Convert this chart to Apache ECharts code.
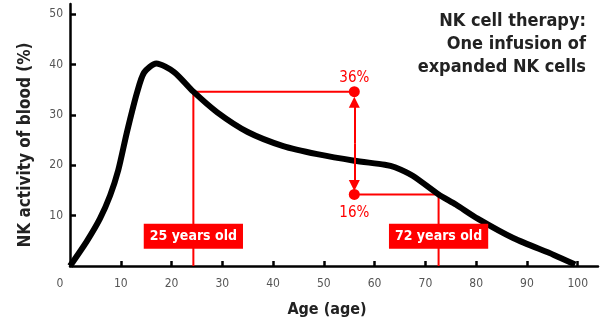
<!DOCTYPE html>
<html><head><meta charset="utf-8">
<script src="https://cdn.jsdelivr.net/npm/echarts@6/dist/echarts.min.js"></script>
<style>html,body{margin:0;padding:0;background:#fff}#c{width:604px;height:323px}</style>
</head><body><div id="c"></div>
<script>
// Curve: NK activity (%) by age
const curveAge = [0, 3.3, 5.9, 7.9, 9.5, 11.2, 13.2, 14.6, 17, 20.5, 24.3, 29, 35, 42, 48.7, 56, 62, 64, 67.5, 72.6, 76, 80.3, 87.4, 95.3, 99.5];
const curveNK  = [0, 4.9, 9.4, 14, 19, 26.5, 34.4, 38.4, 40.2, 38.5, 34.6, 30.5, 26.6, 23.8, 22.2, 20.9, 20.1, 19.6, 17.9, 14.2, 12.2, 9.4, 5.5, 2.2, 0.3];
// Annotated ages and levels
const markAges = [24.3, 72.6];
const markAgeLabels = ['25 years old', '72 years old'];
const therapyAge = 56;
const levelValues = [34.6, 14.2];
const levelLabels = ['36%', '16%'];
const arrowEnds = [32.5, 16.0];
const labelBoxY = 5.9;
const xTicks = [0, 10, 20, 30, 40, 50, 60, 70, 80, 90, 100];
const yTicks = [10, 20, 30, 40, 50];
const titleLines = ['NK cell therapy:', 'One infusion of', 'expanded NK cells'];

const RED = '#ff0000';
const FONT = '"DejaVu Sans Condensed", "DejaVu Sans", sans-serif';

const curve = curveAge.map((a, i) => [a, curveNK[i]]);
const guide1 = [[markAges[0], 0], [markAges[0], levelValues[0]], [therapyAge, levelValues[0]]];
const guide2 = [[markAges[1], 0], [markAges[1], levelValues[1]], [therapyAge, levelValues[1]]];

const chart = echarts.init(document.getElementById('c'));
chart.setOption({
  animation: false,
  grid: {left: 70, right: 6, top: 4, bottom: 55},
  xAxis: {
    type: 'value', min: 0, max: 104,
    name: 'Age (age)', nameLocation: 'middle', nameGap: 36,
    nameTextStyle: {fontFamily: FONT, fontWeight: 'bold', fontSize: 16, color: '#222', padding: [0, 14, 0, 0]},
    axisLine: {lineStyle: {color: '#000', width: 2.5}},
    axisTick: {inside: true, length: 5, lineStyle: {color: '#000', width: 2.5}, customValues: xTicks.filter(v => v > 0)},
    axisLabel: {customValues: xTicks, fontFamily: FONT, fontSize: 12, color: '#555', margin: 12,
      formatter: v => v === 0 ? '{z|0}' : String(v),
      rich: {z: {fontFamily: FONT, fontSize: 12, color: '#555', padding: [0, 20, 0, 0]}}},
    splitLine: {show: false}
  },
  yAxis: {
    type: 'value', min: 0, max: 52,
    name: 'NK activity of blood (%)', nameLocation: 'middle', nameGap: 36, nameRotate: 90,
    nameTextStyle: {fontFamily: FONT, fontWeight: 'bold', fontSize: 17, color: '#222', padding: [0, 20, 0, 0]},
    axisLine: {lineStyle: {color: '#000', width: 2.5}},
    axisTick: {inside: true, length: 6, lineStyle: {color: '#000', width: 2.5}, customValues: yTicks},
    axisLabel: {customValues: yTicks, fontFamily: FONT, fontSize: 12, color: '#555', margin: 7},
    splitLine: {show: false}
  },
  graphic: titleLines.map((t, i) => ({
    type: 'text', right: 18, top: 12 + i * 23,
    style: {text: t, font: 'bold 18px ' + FONT, fill: '#222'}
  })),
  series: [
    {type: 'line', data: guide1, symbol: 'none', lineStyle: {color: RED, width: 2}, z: 2},
    {type: 'line', data: guide2, symbol: 'none', lineStyle: {color: RED, width: 2}, z: 2},
    {type: 'line', data: curve, smooth: 0.25, symbol: 'none', lineStyle: {color: '#000', width: 6}, z: 3},
    {type: 'lines', coordinateSystem: 'cartesian2d', z: 4,
      data: [{coords: [[therapyAge, (arrowEnds[0] + arrowEnds[1]) / 2], [therapyAge, arrowEnds[0]]]},
             {coords: [[therapyAge, (arrowEnds[0] + arrowEnds[1]) / 2], [therapyAge, arrowEnds[1]]]}],
      symbol: ['none', 'triangle'], symbolSize: [10, 11],
      lineStyle: {color: RED, width: 2, opacity: 1}},
    {type: 'scatter', z: 5, symbol: 'circle', symbolSize: 11, itemStyle: {color: RED, opacity: 1},
      data: levelValues.map((v, i) => ({value: [therapyAge, v],
        label: {show: true, position: i === 0 ? 'top' : 'bottom', distance: i === 0 ? 1 : 6,
          formatter: levelLabels[i], color: RED, fontFamily: FONT, fontSize: 15}}))},
    {type: 'scatter', z: 6, symbolSize: 0, itemStyle: {opacity: 1},
      data: markAges.map((a, i) => ({value: [a, labelBoxY],
        label: {show: true, position: 'inside', formatter: markAgeLabels[i], color: '#fff',
          fontFamily: FONT, fontWeight: 'bold', fontSize: 14, backgroundColor: RED,
          padding: [6, 6, 5, 6]}}))}
  ]
});
</script></body></html>
